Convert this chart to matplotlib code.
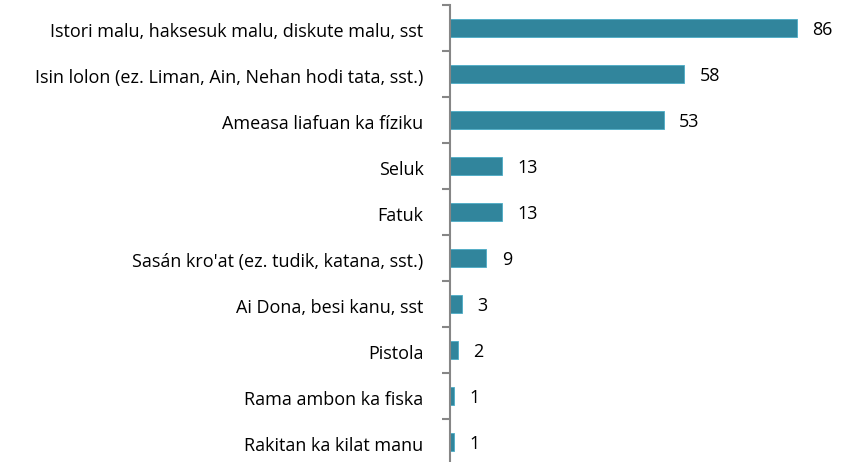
import matplotlib.pyplot as plt
import numpy as np

categories = [
    "Istori malu, haksesuk malu, diskute malu, sst",
    "Isin lolon (ez. Liman, Ain, Nehan hodi tata, sst.)",
    "Ameasa liafuan ka fíziku",
    "Seluk",
    "Fatuk",
    "Sasán kro'at (ez. tudik, katana, sst.)",
    "Ai Dona, besi kanu, sst",
    "Pistola",
    "Rama ambon ka fiska",
    "Rakitan ka kilat manu",
]
values = [86, 58, 53, 13, 13, 9, 3, 2, 1, 1]

BAR_COLOR = "#31859C"
AXIS_COLOR = "#868686"

W, H = 850, 462
fig = plt.figure(figsize=(W / 100, H / 100), dpi=100)
plt.rcParams["font.family"] = ["Open Sans", "DejaVu Sans"]

# axis line at x=450px, first tick at y=5px, 46px per category
left, top, step = 450, 5, 46
n = len(categories)
ax_h = step * n
ax = fig.add_axes([left / W, (H - top - ax_h) / H, (W - left) / W, ax_h / H])

y = np.arange(n)
ax.barh(y, values, height=0.38, color=BAR_COLOR, edgecolor="#4BACC6", linewidth=0.6)
ax.set_ylim(n - 0.5, -0.5)
ax.set_xlim(0, (W - left) / 4.035)

for yi, v in zip(y, values):
    ax.text(v + 3.8, yi + 0.04, str(v), va="center", ha="left", fontsize=13, color="black")

ax.set_yticks(y + 0.04)
ax.set_yticklabels(categories, fontsize=13)
ax.tick_params(axis="y", which="major", length=0, pad=19)
ax.set_yticks(np.arange(n + 1) - 0.5, minor=True)
ax.tick_params(axis="y", which="minor", length=6, width=1.5, color=AXIS_COLOR)
ax.set_xticks([])

for side in ["top", "right", "bottom"]:
    ax.spines[side].set_visible(False)
ax.spines["left"].set_color(AXIS_COLOR)
ax.spines["left"].set_linewidth(1.5)

fig.savefig("out.png", dpi=100)
